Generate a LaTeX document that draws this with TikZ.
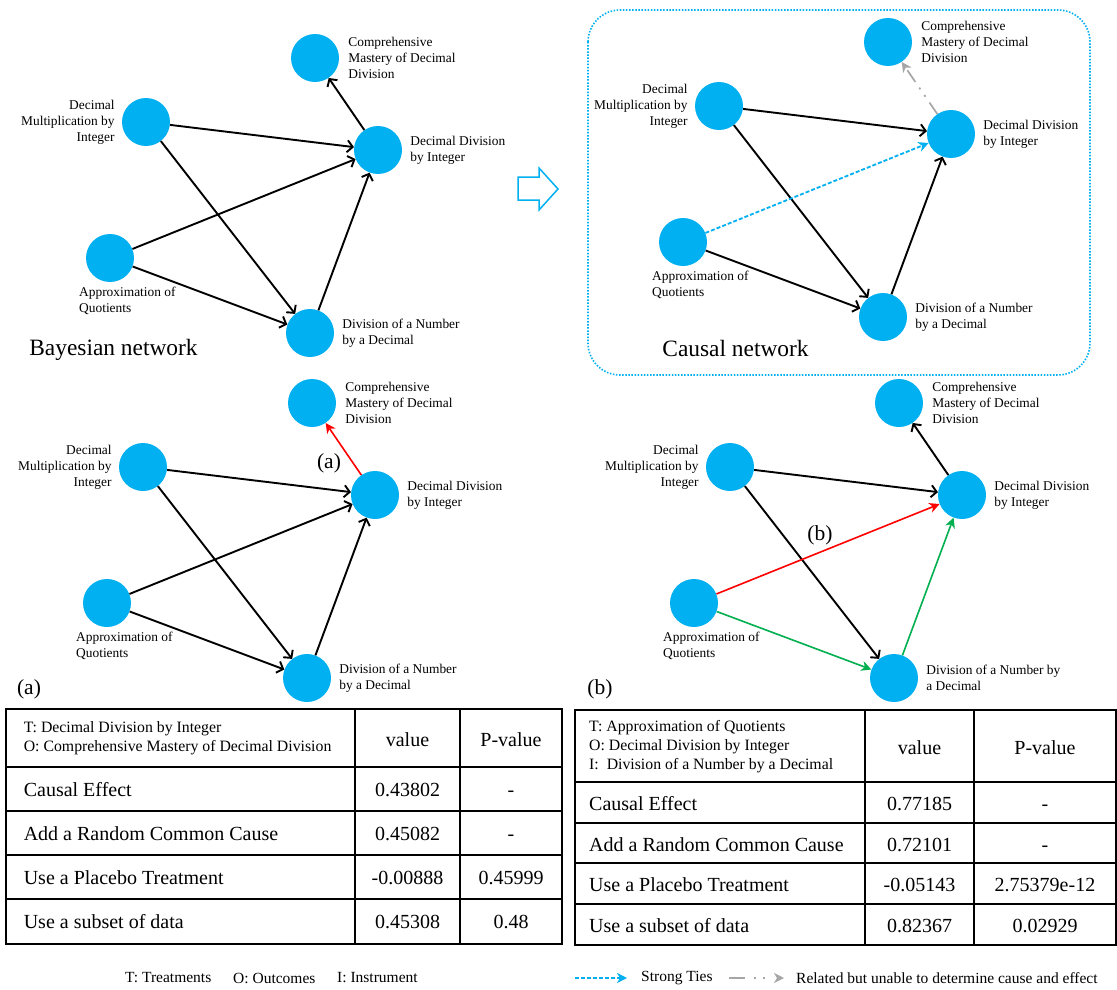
\documentclass[tikz,border=0pt]{standalone}
\usepackage{fontspec}
\setmainfont{Liberation Serif}
\usetikzlibrary{arrows.meta,positioning,calc}
\definecolor{nodeblue}{HTML}{00B0F0}
\definecolor{arrred}{HTML}{FF0000}
\definecolor{arrgreen}{HTML}{00B050}
\definecolor{arrgray}{HTML}{A6A6A6}
\newcommand\netnodes[2]{%
  \node[nd] (#1C) at (315,58) {};
  \node[nd] (#1M) at (146,122) {};
  \node[nd] (#1D) at (378,150) {};
  \node[nd] (#1A) at (110,258) {};
  \node[nd] (#1N) at (310,333) {};
  \node[lab,right=9pt of #1C] (#1Cl) {Comprehensive\\Mastery of Decimal\\Division};
  \node[labr,left=7pt of #1M] (#1Ml) {Decimal\\Multiplication by\\Integer};
  \node[lab,right=8pt of #1D] (#1Dl) {Decimal Division\\by Integer};
  \node[lab,anchor=north west] (#1Al) at ($(#1A.center)+(-31,29)$) {Approximation of\\Quotients};
  \node[lab,right=8pt of #1N] (#1Nl) {#2};
}
\begin{document}
\begin{tikzpicture}[x=1pt,y=-1pt,
  nd/.style={circle,fill=nodeblue,minimum size=48pt,inner sep=0pt},
  lab/.style={font=\fontsize{13.4}{16}\selectfont,align=left,inner sep=0pt},
  labr/.style={lab,align=right},
  blk/.style={draw=black,line width=1.9pt,-{Straight Barb[length=5.5pt,width=12pt]}},
  colarr/.style={draw=#1,line width=1.6pt,-{Stealth[length=10pt,width=10pt,inset=3pt]}},
  strongtie/.style={draw=nodeblue,line width=1.8pt,dash pattern=on 4pt off 2pt,-{Stealth[length=10pt,width=10pt,inset=3pt]}},
  unsure/.style={draw=arrgray,line width=1.7pt,-{Stealth[length=10pt,width=10pt,inset=3pt]}},
  title/.style={font=\fontsize{23.4}{28}\selectfont,inner sep=0pt},
  tag/.style={font=\fontsize{21.5}{26}\selectfont,inner sep=0pt},
  hdr/.style={font=\fontsize{15.8}{19}\selectfont,align=left,inner sep=0pt},
  cell/.style={font=\fontsize{20}{24}\selectfont,inner sep=0pt},
  legend/.style={font=\fontsize{15.5}{18}\selectfont,inner sep=0pt,anchor=west},
  tabin/.style={line width=1.5pt},
  tabout/.style={line width=2.4pt}
]
\useasboundingbox (0,0) rectangle (1117,990);
\fill[white] (0,0) rectangle (1117,990);

% causal network frame
\draw[nodeblue,line width=1.6pt,dash pattern=on 1.5pt off 1.6pt,rounded corners=32pt] (588,10) rectangle (1090,375);
% hollow arrow
\draw[nodeblue,line width=1.5pt,fill=white,line join=miter] (518,177) -- (539,177) -- (539,168) -- (558,189) -- (539,210) -- (539,200) -- (518,200) -- cycle;

% ---- top-left: Bayesian network
\netnodes{a}{Division of a Number\\by a Decimal}
\draw[blk] (aM) -- (aD);
\draw[blk] (aM) -- (aN);
\draw[blk] (aA) -- (aD);
\draw[blk] (aA) -- (aN);
\draw[blk] (aN) -- (aD);
\draw[blk] (aD) -- (aC);
\node[title] (bayes) at (113.5,350) {Bayesian network};

% ---- top-right: Causal network
\begin{scope}[shift={(573,-16)}]
\netnodes{b}{Division of a Number\\by a Decimal}
\end{scope}
\draw[blk] (bM) -- (bD);
\draw[blk] (bM) -- (bN);
\draw[strongtie] (bA) -- (bD);
\draw[blk] (bA) -- (bN);
\draw[blk] (bN) -- (bD);
\draw[unsure,dash pattern=on 14pt off 7pt on 2pt off 7pt on 2pt off 7pt] (bD) -- (bC);
\node[title] (causal) at (735.5,348) {Causal network};

% ---- bottom-left (a)
\begin{scope}[shift={(-3,345)}]
\netnodes{c}{Division of a Number\\by a Decimal}
\end{scope}
\draw[blk] (cM) -- (cD);
\draw[blk] (cM) -- (cN);
\draw[blk] (cA) -- (cD);
\draw[blk] (cA) -- (cN);
\draw[blk] (cN) -- (cD);
\draw[colarr=arrred] (cD) -- (cC);
\node[tag] (taga1) at (329,463) {(a)};
\node[tag] (taga2) at (29,689) {(a)};

% ---- bottom-right (b)
\begin{scope}[shift={(584,345)}]
\netnodes{d}{Division of a Number by\\a Decimal}
\end{scope}
\draw[blk] (dM) -- (dD);
\draw[blk] (dM) -- (dN);
\draw[colarr=arrred] (dA) -- (dD);
\draw[colarr=arrgreen] (dA) -- (dN);
\draw[colarr=arrgreen] (dN) -- (dD);
\draw[blk] (dD) -- (dC);
\node[tag] (tagb1) at (820,535) {(b)};
\node[tag] (tagb2) at (600,689) {(b)};

% ---- left table
\draw[tabin] (355,709) -- (355,944);
\draw[tabin] (460,709) -- (460,944);
\foreach \yy in {767,811,855,899} \draw[tabin] (6,\yy) -- (562,\yy);
\draw[tabout] (6,709) rectangle (562,944);
\node[hdr,anchor=west] (lh) at (23.6,738) {T: Decimal Division by Integer\\O: Comprehensive Mastery of Decimal Division};
\node[cell] (lhv) at (407.5,740) {value};
\node[cell] (lhp) at (511,740) {P-value};
\node[cell,anchor=base west] (lr1) at (23.6,796) {Causal Effect};
\node[cell,anchor=base west] (lr2) at (23.6,840) {Add a Random Common Cause};
\node[cell,anchor=base west] (lr3) at (23.6,884) {Use a Placebo Treatment};
\node[cell,anchor=base west] (lr4) at (23.6,928.5) {Use a subset of data};
\node[cell,anchor=base] (lv1) at (407.5,796) {0.43802};
\node[cell,anchor=base] (lv2) at (407.5,840) {0.45082};
\node[cell,anchor=base] (lv3) at (407.5,884) {-0.00888};
\node[cell,anchor=base] (lv4) at (407.5,928.5) {0.45308};
\node[cell,anchor=base] (lp1) at (511,796) {-};
\node[cell,anchor=base] (lp2) at (511,840) {-};
\node[cell,anchor=base] (lp3) at (511,884) {0.45999};
\node[cell,anchor=base] (lp4) at (511,928.5) {0.48};

% ---- right table
\draw[tabin] (865,710) -- (865,945);
\draw[tabin] (974,710) -- (974,945);
\foreach \yy in {782,823,863,904} \draw[tabin] (575,\yy) -- (1116,\yy);
\draw[tabout] (575,710) rectangle (1116,945);
\node[hdr,anchor=west] (rh) at (589,747) {T: Approximation of Quotients\\O: Decimal Division by Integer\\I:\ \ Division of a Number by a Decimal};
\node[cell] (rhv) at (919.5,748) {value};
\node[cell] (rhp) at (1045,748) {P-value};
\node[cell,anchor=base west] (rr1) at (589,810.5) {Causal Effect};
\node[cell,anchor=base west] (rr2) at (589,851) {Add a Random Common Cause};
\node[cell,anchor=base west] (rr3) at (589,891.5) {Use a Placebo Treatment};
\node[cell,anchor=base west] (rr4) at (589,932.5) {Use a subset of data};
\node[cell,anchor=base] (rv1) at (919.5,810.5) {0.77185};
\node[cell,anchor=base] (rv2) at (919.5,851) {0.72101};
\node[cell,anchor=base] (rv3) at (919.5,891.5) {-0.05143};
\node[cell,anchor=base] (rv4) at (919.5,932.5) {0.82367};
\node[cell,anchor=base] (rp1) at (1045,810.5) {-};
\node[cell,anchor=base] (rp2) at (1045,851) {-};
\node[cell,anchor=base] (rp3) at (1045,891.5) {2.75379e-12};
\node[cell,anchor=base] (rp4) at (1045,932.5) {0.02929};

% ---- legend
\node[legend] (legT) at (125,978) {T: Treatments};
\node[legend] (legO) at (233,978) {O: Outcomes};
\node[legend] (legI) at (337,978) {I: Instrument};
\coordinate (lb1) at (575,978);
\coordinate (lb2) at (627,978);
\draw[strongtie] (lb1) -- (lb2);
\node[legend] (legS) at (641,978) {Strong Ties};
\coordinate (lg1) at (729,978);
\coordinate (lg2) at (784,978);
\draw[unsure,dash pattern=on 16pt off 9pt on 1.5pt off 7.5pt on 1.5pt off 20pt] (lg1) -- (lg2);
\node[legend] (legR) at (796,978) {Related but unable to determine cause and effect};
\end{tikzpicture}
\end{document}
